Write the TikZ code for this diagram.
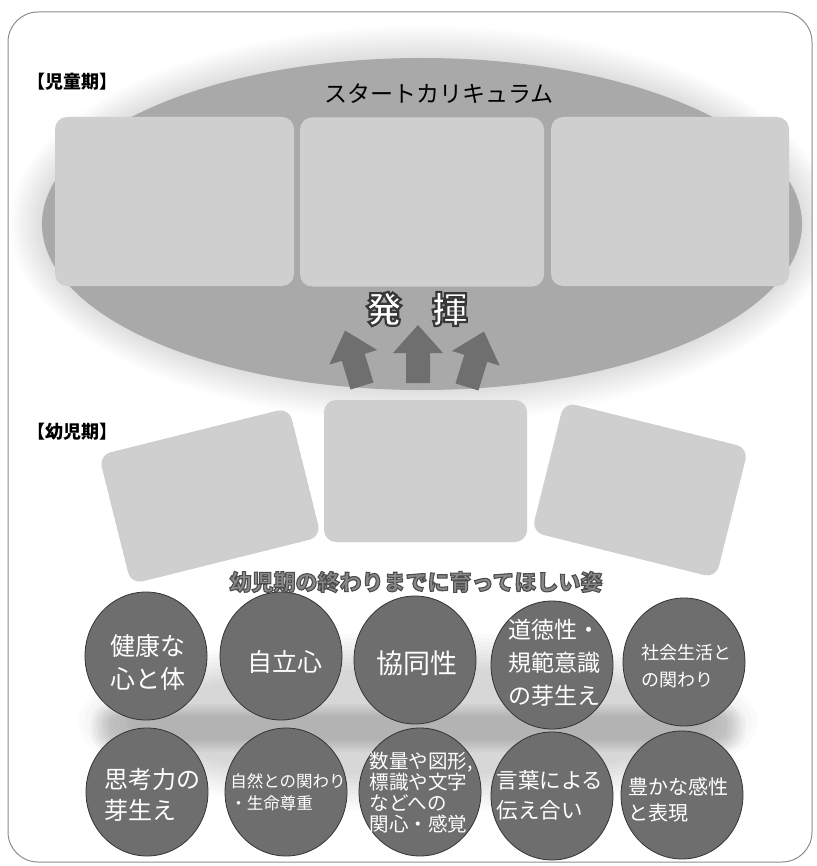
\documentclass[tikz,border=0pt]{standalone}
\usepackage{fontspec}
\setmainfont{Noto Sans CJK JP}
\usetikzlibrary{shapes.geometric}
\definecolor{ellgray}{HTML}{A9A9A9}
\definecolor{boxgray}{HTML}{CFCFCF}
\definecolor{arrowgray}{HTML}{6F6F6F}
\definecolor{circgray}{HTML}{6E6E6E}
\definecolor{framegray}{HTML}{8C8C8C}
\definecolor{titlegray}{HTML}{8A8A8A}
% outlined text: fill with current colour, stroke in grey #2 with width #1
\newcommand\outlinedtext[3]{\special{pdf:literal direct 2 Tr #1 w #2 G}#3\special{pdf:literal direct 0 Tr}}
\begin{document}
\begin{tikzpicture}[x=1pt,y=-1pt,
  panel/.style={rectangle, rounded corners=12pt, fill=boxgray, draw=none, inner sep=0pt},
  disc/.style={ellipse, fill=circgray, draw=black!80, line width=0.8pt, minimum width=122pt, minimum height=128pt, inner sep=0pt},
  disctext/.style={text=white, align=left, inner sep=0pt},
  blockarrow/.style={fill=arrowgray, draw=none},
  period/.style={font=\bfseries\fontsize{18}{20}\selectfont, anchor=west, inner sep=0pt},
  f/.style n args={2}{font=\fontsize{#1}{#2}\selectfont}
]
\useasboundingbox (0,0) rectangle (816,866);
\fill[white] (0,0) rectangle (816,866);

% soft halo around the big ellipse, clipped to the frame
\begin{scope}
  \clip[rounded corners=30pt] (8,12) rectangle (812,862);
  \foreach \i in {1,...,16}
    \fill[black, opacity=0.0075] (422,224) ellipse [x radius={380+2*\i}, y radius={166+2*\i}];
\end{scope}
\draw[framegray, line width=1pt, rounded corners=30pt] (8,12) rectangle (812,862);

% big ellipse
\node[ellipse, fill=ellgray, draw=none, minimum width=760pt, minimum height=332pt, inner sep=0pt] (curr) at (422,224) {};

% top panels
\node[panel, minimum width=239pt, minimum height=169pt] (p1) at (174.5,201.5) {};
\node[panel, minimum width=244pt, minimum height=169pt] (p2) at (422,202) {};
\node[panel, minimum width=238pt, minimum height=169pt] (p3) at (670,201.5) {};

\node[f={23}{26}, inner sep=0pt] (sc) at (439,94) {スタートカリキュラム};
\node[period] (jidou) at (27,82) {【児童期】};

% 発揮 (white letters with a dark outline)
\node[font=\bfseries\fontsize{36}{40}\selectfont, text=white, inner sep=0pt] (hakki) at (417,309) {\outlinedtext{2.2}{0.22}{発\hspace{30pt}揮}};

% three arrows
\fill[blockarrow, shift={(362,386)}, rotate=17] (-12,0) -- (-12,-30) -- (-25,-30) -- (0,-58) -- (25,-30) -- (12,-30) -- (12,0) -- cycle;
\fill[blockarrow, shift={(418,383)}] (-12,0) -- (-12,-30) -- (-25,-30) -- (0,-58) -- (25,-30) -- (12,-30) -- (12,0) -- cycle;
\fill[blockarrow, shift={(467,387)}, rotate=-17] (-12,0) -- (-12,-30) -- (-25,-30) -- (0,-58) -- (25,-30) -- (12,-30) -- (12,0) -- cycle;

% lower panels
\node[period] (youji) at (27,432) {【幼児期】};
\node[panel, minimum width=196pt, minimum height=133pt, rotate=14] (q1) at (210,496) {};
\node[panel, minimum width=203pt, minimum height=142pt] (q2) at (425.5,471) {};
\node[panel, minimum width=190pt, minimum height=134pt, rotate=-14] (q3) at (640,490) {};

% soft band behind the circles
\foreach \i in {0,...,9}
  \fill[black, opacity=0.016] (418,722) ellipse [x radius={340-6*\i}, y radius={90-4*\i}];
\foreach \i in {0,...,6}
  \fill[black, opacity=0.022, rounded corners={20-2*\i}] ({91+3*\i},{704+2*\i}) rectangle ({745-3*\i},{752-2*\i});

% circles
\node[disc] (c1) at (146,656) {};
\node[disc] (c2) at (281,656) {};
\node[disc] (c3) at (415,660) {};
\node[disc] (c4) at (552,665) {};
\node[disc] (c5) at (684,662) {};
\node[disc] (c6) at (147,792) {};
\node[disc] (c7) at (286,792) {};
\node[disc] (c8) at (420,792) {};
\node[disc] (c9) at (552,796) {};
\node[disc] (c10) at (682,795) {};

\node[disctext, f={25}{33}] (t1) at (148,662) {健康な\\心と体};
\node[disctext, f={25}{30}] (t2) at (285,662) {自立心};
\node[disctext, f={27}{30}] (t3) at (417,663) {協同性};
\node[disctext, f={23}{33}] (t4) at (554,663) {道徳性・\\規範意識\\の芽生え};
\node[disctext, f={18}{27}] (t5) at (686,666) {社会生活と\\の関わり};
\node[disctext, f={24}{31}] (t6) at (152,795) {思考力の\\芽生え};
\node[disctext, f={16.5}{22}] (t7) at (288,792) {自然との関わり\\・生命尊重};
\node[disctext, f={19.5}{21}] (t8) at (421,793) {数量や図形,\\標識や文字\\などへの\\関心・感覚};
\node[disctext, f={21.5}{30}] (t9) at (550,795) {言葉による\\伝え合い};
\node[disctext, f={20}{26}] (t10) at (678,800) {豊かな感性\\と表現};

% title of the lower part (grey letters, darker outline)
\node[font=\bfseries\fontsize{22}{24}\selectfont, text=titlegray, inner sep=0pt] (goal) at (416,582) {\outlinedtext{1.1}{0.3}{幼児期の終わりまでに育ってほしい姿}};
\end{tikzpicture}
\end{document}
